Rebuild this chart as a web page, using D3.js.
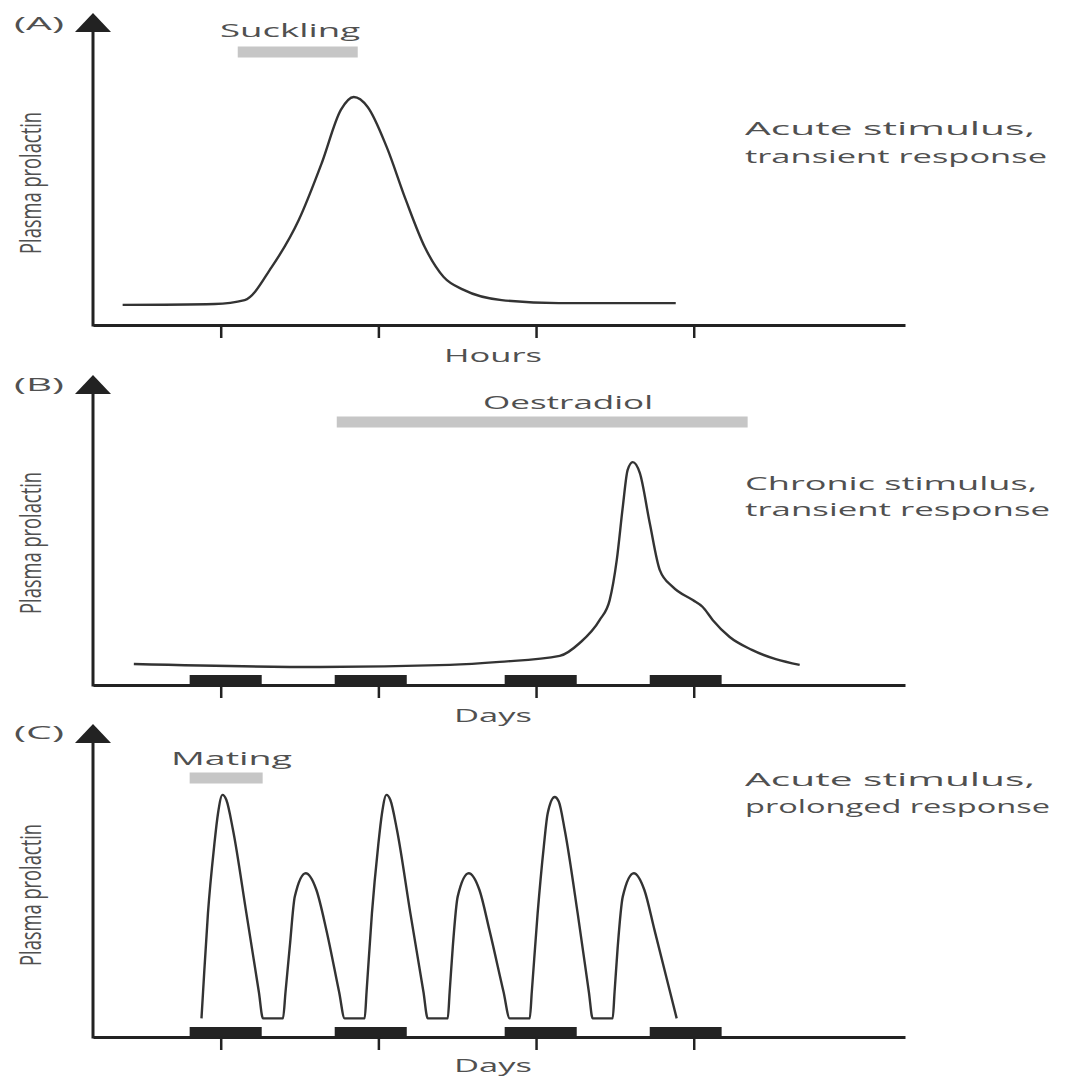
<!DOCTYPE html>
<html>
<head>
<meta charset="utf-8">
<script src="https://cdn.jsdelivr.net/npm/d3@7"></script>
<style>
body { margin: 0; background: #fff; }
</style>
</head>
<body>
<script>
// data (x in hours / days, tick at 1..4; y in arbitrary prolactin units 0..10)
var xTicks = [1, 2, 3, 4]

var panelLetters = ['(A)', '(B)', '(C)']
var xTitles = ['Hours', 'Days', 'Days']
var stimulusNames = ['Suckling', 'Oestradiol', 'Mating']
var stimulusSpans = [[1.108, 1.869], [1.736, 4.342], [0.803, 1.266]]
var responseNotes = [
	['Acute stimulus,', 'transient response'],
	['Chronic stimulus,', 'transient response'],
	['Acute stimulus,', 'prolonged response']
]

// dark periods (nights) on the day axes
var nights = [[0.803, 1.260], [1.723, 2.180], [2.801, 3.258], [3.721, 4.177]]

var curveA = [[0.378, 0.67], [0.962, 0.70], [1.152, 0.83], [1.323, 1.93], [1.495, 3.50], [1.641, 5.40],
	[1.762, 7.17], [1.844, 7.60], [1.932, 7.27], [2.053, 5.93], [2.174, 4.17], [2.294, 2.60],
	[2.414, 1.60], [2.541, 1.17], [2.782, 0.83], [3.144, 0.73], [3.886, 0.73]]

var curveB = [[0.449, 0.70], [1.628, 0.60], [2.452, 0.67], [2.769, 0.77], [3.150, 0.97], [3.277, 1.40],
	[3.404, 2.17], [3.467, 2.83], [3.512, 4.17], [3.550, 5.93], [3.581, 7.17], [3.613, 7.43],
	[3.658, 7.07], [3.721, 5.40], [3.785, 3.83], [3.867, 3.27], [3.994, 2.83], [4.057, 2.60],
	[4.120, 2.17], [4.228, 1.60], [4.369, 1.17], [4.672, 0.67]]

var curveC = [[0.878, 0.62], [0.888, 1.50], [0.919, 4.12], [0.958, 6.34], [0.983, 7.46], [1.011, 8.07],
	[1.036, 7.90], [1.078, 6.90], [1.163, 4.12], [1.242, 1.50], [1.268, 0.62],
	[1.395, 0.62], [1.411, 1.50], [1.438, 3.01], [1.470, 4.68], [1.539, 5.46], [1.607, 4.90],
	[1.670, 3.57], [1.751, 1.50], [1.786, 0.62],
	[1.913, 0.62], [1.925, 1.50], [1.959, 4.12], [1.998, 6.34], [2.023, 7.46], [2.051, 8.07],
	[2.076, 7.90], [2.118, 6.90], [2.203, 4.12], [2.286, 1.50], [2.313, 0.62],
	[2.440, 0.62], [2.452, 1.50], [2.472, 3.01], [2.503, 4.68], [2.573, 5.46], [2.641, 4.90],
	[2.704, 3.57], [2.794, 1.50], [2.833, 0.62],
	[2.960, 0.62], [2.973, 1.50], [3.010, 4.12], [3.049, 6.34], [3.074, 7.46], [3.118, 8.00],
	[3.144, 7.85], [3.182, 6.90], [3.264, 4.12], [3.335, 1.50], [3.359, 0.62],
	[3.486, 0.62], [3.498, 1.50], [3.518, 3.01], [3.550, 4.68], [3.620, 5.46], [3.687, 4.90],
	[3.751, 3.57], [3.850, 1.50], [3.892, 0.62]]

var curves = [curveA, curveB, curveC]
var showNights = [false, true, true]

// layout ==================================================================
var width = 1083, height = 1081
var color = { axis: "#222", line: "#333", text: "#505050", bar: "#c6c6c6", night: "#232323" }
var font = "'Open Sans', 'DejaVu Sans', sans-serif"

var layout = [
	{ axisY: 325, tipY: 13, letterBase: 30, titleBase: 362, titleW: 98, stimY: 52, stimX: 220, stimBase: 37, stimW: 140, noteBase: [135, 163], noteW: [290, 302] },
	{ axisY: 685, tipY: 375, letterBase: 391, titleBase: 722, titleW: 78, stimY: 422, stimX: 483, stimBase: 409, stimW: 170, noteBase: [490, 516], noteW: [292, 305] },
	{ axisY: 1037, tipY: 724, letterBase: 739, titleBase: 1072, titleW: 78, stimY: 778, stimX: 171, stimBase: 765, stimW: 121, noteBase: [786, 813], noteW: [290, 305] }
]

var svg = d3.select('body').append('svg')
	.attr('width', width)
	.attr('height', height)
	.style('font-family', font)

var x = d3.scaleLinear().domain([0.19, 5.34]).range([93, 905])

layout.forEach(function(p, i) {
	var y = d3.scaleLinear().domain([0, 10]).range([p.axisY, p.axisY - 300])
	var g = svg.append('g')

	// night bars sit on the axis
	if (showNights[i]) {
		g.selectAll('.night').data(nights).enter().append('rect')
			.attr('x', function(d) { return x(d[0]) })
			.attr('width', function(d) { return x(d[1]) - x(d[0]) })
			.attr('y', p.axisY - 10)
			.attr('height', 10)
			.style('fill', color.night)
	}

	// x axis with ticks, no labels
	var ax = g.append('g')
		.attr('transform', 'translate(0,' + p.axisY + ')')
		.call(d3.axisBottom(x).tickValues(xTicks).tickSize(13).tickSizeOuter(0).tickFormat(''))
	ax.select('.domain').style('stroke', color.axis).style('stroke-width', 3)
	ax.selectAll('.tick line').style('stroke', color.axis).style('stroke-width', 2.5)

	// y axis with arrow head
	var x0 = x.range()[0]
	g.append('line')
		.attr('x1', x0).attr('x2', x0)
		.attr('y1', p.axisY + 1.5).attr('y2', p.tipY + 12)
		.style('stroke', color.axis).style('stroke-width', 3)
	g.append('path')
		.attr('d', 'M' + x0 + ',' + p.tipY + 'L' + (x0 + 18) + ',' + (p.tipY + 19) + 'L' + (x0 - 18) + ',' + (p.tipY + 19) + 'Z')
		.style('fill', color.axis)

	// the prolactin curve
	g.append('path')
		.datum(curves[i])
		.attr('d', d3.line()
			.x(function(d) { return x(d[0]) })
			.y(function(d) { return y(d[1]) })
			.curve(d3.curveMonotoneX))
		.style('fill', 'none')
		.style('stroke', color.line)
		.style('stroke-width', 2.4)

	// stimulus bar + name
	g.append('rect')
		.attr('x', x(stimulusSpans[i][0]))
		.attr('width', x(stimulusSpans[i][1]) - x(stimulusSpans[i][0]))
		.attr('y', p.stimY - 5.5)
		.attr('height', 11)
		.style('fill', color.bar)

	g.append('text')
		.attr('x', p.stimX).attr('y', p.stimBase)
		.attr('font-size', '18px')
		.attr('textLength', p.stimW).attr('lengthAdjust', 'spacingAndGlyphs')
		.style('fill', color.text)
		.text(stimulusNames[i])

	// panel letter
	g.append('text')
		.attr('x', 14).attr('y', p.letterBase)
		.attr('font-size', '18px')
		.attr('textLength', 50).attr('lengthAdjust', 'spacingAndGlyphs')
		.style('fill', color.text)
		.text(panelLetters[i])

	// x title
	g.append('text')
		.attr('x', 493).attr('y', p.titleBase)
		.attr('text-anchor', 'middle')
		.attr('font-size', '18px')
		.attr('textLength', p.titleW).attr('lengthAdjust', 'spacingAndGlyphs')
		.style('fill', color.text)
		.text(xTitles[i])

	// y title, narrow glyphs like the source
	g.append('text')
		.attr('transform', 'translate(31,' + (p.axisY - 142) + ') scale(1.8,1) rotate(-90)')
		.attr('text-anchor', 'middle')
		.attr('dy', '0.35em')
		.attr('font-size', '16px')
		.attr('textLength', 142).attr('lengthAdjust', 'spacingAndGlyphs')
		.style('fill', color.text)
		.text('Plasma prolactin')

	// note on the right
	responseNotes[i].forEach(function(t, k) {
		g.append('text')
			.attr('x', 745).attr('y', p.noteBase[k])
			.attr('font-size', '18px')
			.attr('textLength', p.noteW[k]).attr('lengthAdjust', 'spacingAndGlyphs')
			.style('fill', color.text)
			.text(t)
	})
})
</script>
</body>
</html>
